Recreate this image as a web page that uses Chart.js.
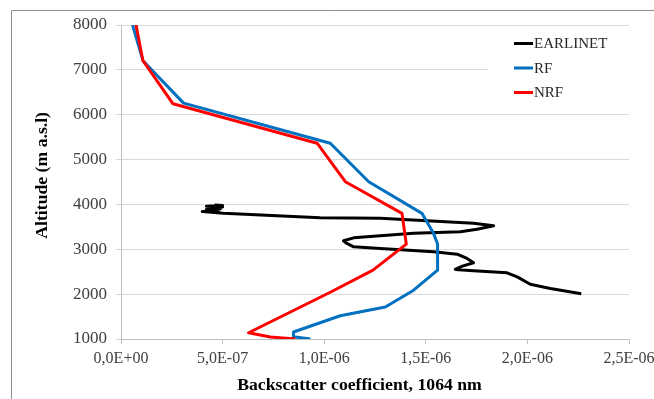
<!DOCTYPE html>
<html>
<head>
<meta charset="utf-8">
<script src="https://cdn.jsdelivr.net/npm/chart.js@4.4.0/dist/chart.umd.min.js"></script>
<style>
  html, body { margin: 0; padding: 0; background: #fff; }
  #wrap { width: 654px; height: 399px; }
</style>
</head>
<body>
<div id="wrap"><canvas id="profileChart" width="654" height="399"></canvas></div>
<script>
// Rückstreukoeffizient (1064 nm) gegen Höhe (m a.s.l)
const seriesNames = ['EARLINET', 'RF', 'NRF'];
const seriesColors = ['#000000', '#0070C0', '#FF0000'];

const earlinetBeta = [0.46e-6, 0.50e-6, 0.42e-6, 0.50e-6, 0.43e-6, 0.49e-6, 0.42e-6, 0.48e-6, 0.40e-6, 0.504e-6,
  0.98e-6, 1.276e-6, 1.735e-6, 1.834e-6, 1.752e-6, 1.67e-6, 1.44e-6, 1.145e-6, 1.095e-6, 1.112e-6,
  1.145e-6, 1.276e-6, 1.538e-6, 1.654e-6, 1.703e-6, 1.735e-6, 1.68e-6, 1.645e-6, 1.735e-6, 1.90e-6,
  1.95e-6, 2.014e-6, 2.113e-6, 2.265e-6];
const earlinetAlt = [3985, 3975, 3960, 3945, 3925, 3905, 3885, 3865, 3840, 3805,
  3703, 3690, 3578, 3525, 3445, 3390, 3355, 3255, 3190, 3130,
  3055, 3020, 2945, 2890, 2795, 2700, 2625, 2550, 2520, 2475,
  2385, 2220, 2125, 2010];

const rfBeta = [0.057e-6, 0.108e-6, 0.308e-6, 1.030e-6, 1.219e-6, 1.481e-6, 1.538e-6, 1.558e-6, 1.558e-6,
  1.440e-6, 1.301e-6, 1.079e-6, 0.849e-6, 0.849e-6, 0.932e-6];
const rfAlt = [8000, 7204, 6259, 5365, 4507, 3801, 3355, 3116, 2535, 2088, 1715, 1518, 1156, 1049, 1000];

const nrfBeta = [0.074e-6, 0.108e-6, 0.256e-6, 0.965e-6, 1.104e-6, 1.383e-6, 1.404e-6, 1.240e-6, 1.030e-6,
  0.628e-6, 0.735e-6, 0.858e-6];
const nrfAlt = [8000, 7204, 6243, 5365, 4507, 3801, 3116, 2535, 2043, 1140, 1045, 1000];

const xTicks = [0, 5e-7, 1e-6, 1.5e-6, 2e-6, 2.5e-6];
const yTicks = [1000, 2000, 3000, 4000, 5000, 6000, 7000, 8000];

// Punkte (x = Koeffizient, y = Höhe) zusammenbauen
function toPoints(xs, ys) {
    return xs.map((x, i) => ({ x: x, y: ys[i] }));
}

// Beschriftung im Excel-Stil: 5,0E-07
function sciLabel(v) {
    if (Math.abs(v) < 1e-15) return '0,0E+00';
    const parts = v.toExponential(1).split('e');
    const exp = parseInt(parts[1], 10);
    return parts[0].replace('.', ',') + 'E' + (exp < 0 ? '-' : '+') + String(Math.abs(exp)).padStart(2, '0');
}

// Rahmen links/oben und Legende im Diagrammbereich
const frameAndLegend = {
    id: 'frameAndLegend',
    beforeDraw(chart) {
        const ctx = chart.ctx;
        ctx.save();
        ctx.fillStyle = '#ffffff';
        ctx.fillRect(0, 0, chart.width, chart.height);
        ctx.strokeStyle = '#8c8c8c';
        ctx.lineWidth = 1;
        ctx.beginPath();
        ctx.moveTo(11.5, chart.height);
        ctx.lineTo(11.5, 10.5);
        ctx.lineTo(chart.width, 10.5);
        ctx.stroke();
        ctx.restore();
    },
    afterDraw(chart) {
        const ctx = chart.ctx;
        ctx.save();
        ctx.fillStyle = '#ffffff';
        ctx.fillRect(488, 32, 150, 72);
        ctx.font = '15px "Liberation Serif", "Times New Roman", serif';
        ctx.textBaseline = 'middle';
        chart.data.datasets.forEach((ds, i) => {
            const y = 43.5 + i * 24.5;
            ctx.strokeStyle = ds.borderColor;
            ctx.lineWidth = 3;
            ctx.beginPath();
            ctx.moveTo(514, y);
            ctx.lineTo(533, y);
            ctx.stroke();
            ctx.fillStyle = '#262626';
            ctx.fillText(ds.label, 534, y + 1);
        });
        ctx.restore();
    }
};

const datasets = [
    { label: seriesNames[0], data: toPoints(earlinetBeta, earlinetAlt), borderColor: seriesColors[0], order: 2 },
    { label: seriesNames[1], data: toPoints(rfBeta, rfAlt), borderColor: seriesColors[1], order: 1 },
    { label: seriesNames[2], data: toPoints(nrfBeta, nrfAlt), borderColor: seriesColors[2], order: 0 }
].map(ds => Object.assign(ds, {
    showLine: true,
    pointRadius: 0,
    borderWidth: 3,
    tension: 0,
    fill: false,
    backgroundColor: ds.borderColor,
    borderJoinStyle: 'round'
}));

const serif = '"Liberation Serif", "Times New Roman", serif';
const titleFont = { family: serif, size: 17.7, weight: 'bold' };

new Chart(document.getElementById('profileChart'), {
    type: 'scatter',
    data: { datasets: datasets },
    options: {
        responsive: false,
        animation: false,
        layout: { padding: { left: 0, top: 25, right: 25, bottom: 0 } },
        plugins: {
            legend: { display: false },
            tooltip: { enabled: false }
        },
        scales: {
            x: {
                type: 'linear',
                min: 0,
                max: 2.5e-6,
                afterBuildTicks: s => { s.ticks = xTicks.map(v => ({ value: v })); },
                // feste Höhe, Überhang der letzten Beschriftung darf über den Rand laufen
                afterFit: s => { s.height = 60; s.paddingLeft = 0; s.paddingRight = 0; },
                grid: { drawOnChartArea: false, drawTicks: true, tickLength: 5, color: '#bfbfbf' },
                border: { color: '#bfbfbf' },
                ticks: { font: { family: serif, size: 16 }, color: '#404040', padding: 5, maxRotation: 0, callback: v => sciLabel(v) },
                // Leerzeichen am Ende verschieben den Titel etwas nach links, wie im Original
                title: { display: true, text: 'Backscatter coefficient, 1064 nm       ', font: titleFont, color: '#000', padding: { top: 0, bottom: 3 } }
            },
            y: {
                type: 'linear',
                min: 1000,
                max: 8000,
                afterBuildTicks: s => { s.ticks = yTicks.map(v => ({ value: v })); },
                afterFit: s => { s.width = 121; s.paddingTop = 0; s.paddingBottom = 0; },
                grid: { color: '#d9d9d9', tickLength: 5 },
                border: { color: '#bfbfbf' },
                ticks: { font: { family: serif, size: 17 }, color: '#404040', padding: 9, callback: v => String(v) },
                title: { display: true, text: '   Altitude (m a.s.l)', font: titleFont, color: '#000', padding: { top: 32, bottom: 0 } }
            }
        }
    },
    plugins: [frameAndLegend]
});
</script>
</body>
</html>
